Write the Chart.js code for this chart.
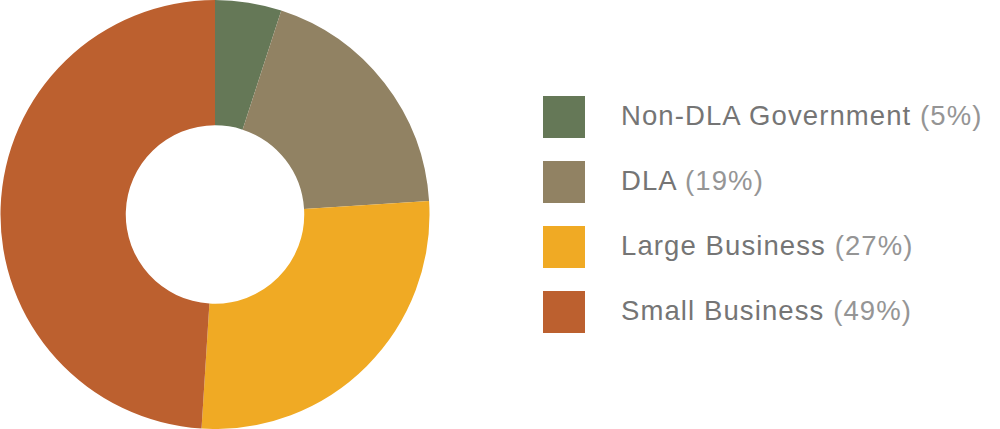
<!DOCTYPE html>
<html><head><meta charset="utf-8">
<script src="https://cdn.jsdelivr.net/npm/chart.js@4/dist/chart.umd.min.js"></script>
<style>
html,body{margin:0;padding:0;background:#fff;width:1000px;height:429px;overflow:hidden;}
#wrap{position:absolute;left:0;top:0;width:430px;height:429px;}
#legend{position:absolute;left:543px;top:96px;font-family:"Liberation Sans",Arial,sans-serif;}
.item{position:relative;height:65px;}
.box{position:absolute;left:0;top:0;width:42px;height:42px;}
.lab{position:absolute;left:78px;top:3px;font-size:27.5px;line-height:34px;color:#757575;white-space:nowrap;letter-spacing:1.1px;}
.pct{color:#959595;}
</style></head>
<body>
<div id="wrap"><canvas id="c"></canvas></div>
<div id="legend"></div>
<script>
const categories = ["Non-DLA Government", "DLA", "Large Business", "Small Business"];
const shares = [5, 19, 27, 49];
const colors = ["#657857", "#918263", "#F0AA24", "#BC602F"];

const leg = document.getElementById('legend');
categories.forEach((c, i) => {
  const it = document.createElement('div'); it.className = 'item';
  const b = document.createElement('div'); b.className = 'box'; b.style.background = colors[i];
  const l = document.createElement('div'); l.className = 'lab';
  l.appendChild(document.createTextNode(c + ' '));
  const p = document.createElement('span'); p.className = 'pct'; p.textContent = '(' + shares[i] + '%)';
  l.appendChild(p);
  it.appendChild(b); it.appendChild(l); leg.appendChild(it);
});

new Chart(document.getElementById('c'), {
  type: 'doughnut',
  data: { labels: categories, datasets: [{ data: shares, backgroundColor: colors, borderWidth: 0 }] },
  options: {
    responsive: true, maintainAspectRatio: false, animation: false,
    cutout: '41.6%',
    layout: { padding: 0 },
    plugins: { legend: { display: false }, tooltip: { enabled: false } }
  }
});
</script>
</body></html>
